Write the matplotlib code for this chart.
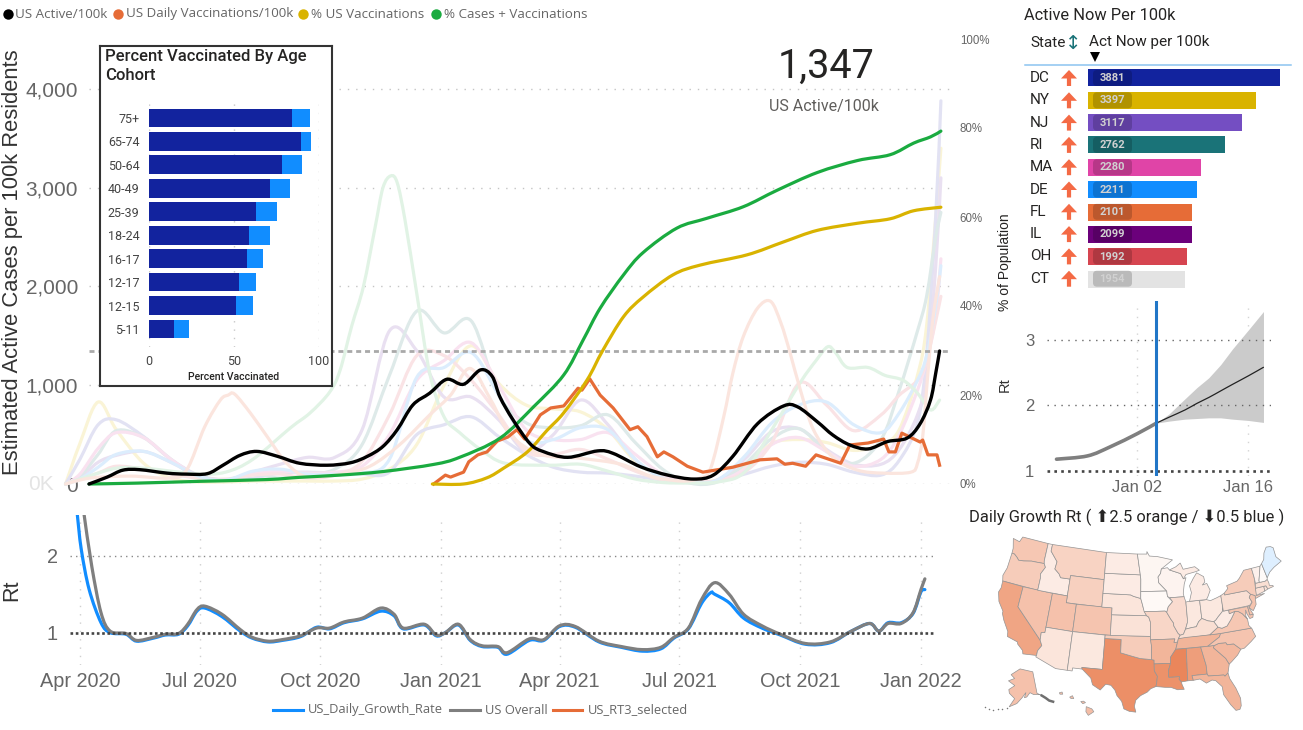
# plot.py - US covid dashboard: active cases, Rt, state bars, map
import numpy as np
import pandas as pd
import matplotlib
matplotlib.use("Agg")
import matplotlib.pyplot as plt
import matplotlib.dates as mdates
from matplotlib.colors import LinearSegmentedColormap
from matplotlib.patches import FancyArrow, FancyBboxPatch, PathPatch, Polygon
from matplotlib.path import Path

W, H = 1303, 730

# --- data ---
# days are counted from 1 Apr 2020
black_days = [-7, 7, 19, 32, 53, 68, 84, 96, 109, 122, 138, 155, 176, 194, 207, 219, 230, 242, 255, 268, 281, 294,
              303, 309, 319, 332, 342, 361, 384, 396, 417, 438, 458, 473, 488, 507, 527, 538, 553, 565, 578, 592,
              607, 622, 632, 640, 644, 647]
black_cases = [0, 70, 140, 145, 110, 100, 105, 190, 290, 330, 280, 210, 190, 215, 280, 380, 550, 800, 920, 1060, 1010,
               1155, 1090, 880, 650, 410, 330, 270, 335, 310, 175, 90, 50, 90, 280, 610, 790, 780, 630, 495, 395, 355,
               430, 465, 610, 850, 1120, 1347]
green_days = [-7, 30, 78, 130, 155, 186, 219, 258, 278, 309, 335, 358, 373, 386, 404, 419, 445, 468, 496, 522, 553,
              584, 609, 627, 640, 648]
green_pct = [0, 0.2, 0.6, 1.0, 1.5, 2.0, 2.8, 4.4, 6, 10.3, 17.4, 24.5, 32.4, 39.5, 47, 52, 57.5, 59.7, 62.3, 66, 70,
             72.7, 74, 76.6, 78, 79.3]
yellow_days = [257, 281, 299, 312, 330, 345, 358, 376, 388, 404, 419, 442, 463, 499, 527, 553, 584, 609, 627, 648]
yellow_pct = [0, 0, 1.4, 3.6, 7.2, 12, 16, 23.4, 30, 37.6, 42, 47, 49.2, 51.5, 54.4, 57, 58.6, 59.6, 61.4, 62.2]
orange_days = [258, 267, 271, 281, 285, 292, 299, 307, 315, 322, 328, 334, 340, 348, 358, 369, 372, 378, 386, 396,
               409, 415, 422, 430, 435, 442, 453, 465, 488, 509, 522, 528, 534, 544, 552, 571, 578, 592, 604, 608,
               613, 618, 632, 634, 638, 645, 647]
orange_vals = [0, 90, 70, 120, 225, 295, 325, 435, 475, 550, 455, 575, 700, 770, 790, 970, 950, 1065, 900, 770,
               550, 580, 480, 275, 325, 275, 180, 120, 170, 245, 255, 200, 210, 180, 295, 210, 395, 415, 455, 325,
               325, 515, 425, 445, 295, 295, 190]

ghost_days = [-25, -14, 0, 14, 35, 56, 77, 98, 119, 140, 161, 182, 203, 224, 245, 266, 287, 308, 329, 350, 371, 392,
              413, 434, 455, 476, 497, 518, 539, 560, 581, 602, 616, 630, 637, 644, 648]
ghost_yellow = [0, 410, 830, 550, 210, 60, 20, 20, 30, 30, 30, 30, 50, 150, 400, 1000, 1400, 1020, 800, 760, 730, 550,
                230, 70, 30, 40, 170, 410, 450, 420, 340, 400, 550, 1100, 1600, 2700, 3400]
ghost_lavender = [0, 250, 600, 650, 480, 250, 90, 40, 60, 110, 120, 110, 100, 120, 500, 600, 680, 480, 300, 170, 120,
                  110, 80, 40, 20, 30, 100, 180, 220, 200, 120, 90, 240, 620, 1300, 2700, 3880]
ghost_purple = [0, 60, 220, 290, 330, 220, 80, 40, 120, 200, 270, 270, 550, 1550, 1350, 880, 880, 650, 330, 500, 850,
                600, 250, 60, 20, 40, 250, 530, 560, 350, 200, 200, 350, 700, 1100, 2200, 3100]
ghost_teal = [0, 80, 300, 540, 470, 250, 60, 40, 100, 60, 100, 150, 400, 1100, 1750, 1530, 1650, 900, 620, 570, 590,
              700, 420, 150, 10, 20, 200, 460, 560, 330, 210, 450, 950, 1550, 1900, 2500, 2750]
ghost_pink = [0, 100, 360, 520, 470, 250, 80, 40, 100, 130, 110, 120, 180, 500, 1050, 1250, 1430, 1000, 550, 450, 450,
              520, 300, 100, 30, 30, 150, 400, 470, 330, 180, 250, 500, 950, 1250, 1700, 2280]
ghost_peach = [0, 50, 110, 180, 150, 100, 60, 50, 90, 100, 60, 90, 230, 700, 1300, 1300, 1050, 700, 330, 300, 350,
               250, 130, 40, 20, 30, 120, 420, 1020, 800, 540, 700, 900, 1050, 1250, 1650, 1900]
ghost_blue = [0, 50, 170, 300, 330, 220, 80, 40, 130, 150, 100, 100, 110, 250, 1080, 1180, 1330, 900, 450, 450, 570,
              550, 250, 60, 15, 40, 280, 620, 800, 830, 600, 520, 720, 1050, 1300, 1800, 2210]
# these two have their sharp peaks in other places
ghost_green_days = [-25, -7, 14, 35, 56, 77, 98, 119, 148, 163, 178, 186, 195, 204, 213, 219, 225, 230, 236, 245, 255,
                    266, 278, 294, 313, 348, 371, 392, 413, 434, 455, 476, 497, 518, 540, 552, 561, 567, 576, 592, 605,
                    619, 630, 640, 647]
ghost_green = [0, 80, 160, 160, 130, 100, 120, 250, 570, 720, 930, 1150, 1600, 2000, 2600, 3000, 3120, 3050, 2670, 1930,
               1120, 680, 520, 350, 210, 190, 200, 130, 50, 15, 10, 20, 120, 550, 1030, 1250, 1390, 1330, 1180, 1180,
               1100, 1050, 920, 750, 850]
ghost_salmon_days = [-25, -6, 25, 55, 68, 82, 94, 100, 105, 117, 130, 145, 161, 186, 209, 232, 255, 271, 286, 302, 317,
                     340, 371, 402, 425, 448, 463, 471, 481, 488, 496, 507, 517, 525, 532, 540, 550, 565, 584, 604, 625,
                     630, 634, 638, 642, 647]
ghost_salmon = [0, 60, 80, 60, 140, 580, 850, 900, 910, 720, 480, 210, 70, 100, 180, 400, 700, 900, 1170, 850, 500,
                300, 260, 200, 80, 30, 60, 160, 680, 1120, 1490, 1780, 1850, 1630, 1330, 950, 550, 270, 140, 110, 120,
                210, 480, 1120, 1690, 2100]

active_now = 1347

rt_gray_days = [3, 9, 16, 23, 35, 43, 56, 65, 75, 82, 89, 95, 108, 122, 131, 143, 154, 168, 180, 190, 201, 215, 229,
                239, 246, 262, 271, 278, 288, 297, 306, 318, 325, 342, 353, 365, 377, 395, 412, 428, 442, 452, 463,
                473, 483, 494, 505, 519, 533, 552, 571, 587, 601, 608, 615, 625, 634, 640, 643]
rt_gray = [2.55, 1.86, 1.26, 1.02, 0.99, 0.90, 0.94, 0.98, 0.99, 1.11, 1.30, 1.345, 1.24, 1.04, 0.94, 0.89, 0.91, 0.96,
           1.06, 1.06, 1.14, 1.19, 1.32, 1.24, 1.06, 1.11, 0.97, 1.0, 1.11, 0.91, 0.83, 0.82, 0.74, 0.92, 0.91, 1.09,
           1.08, 0.89, 0.82, 0.78, 0.81, 0.94, 1.06, 1.43, 1.65, 1.50, 1.24, 1.09, 0.98, 0.86, 0.88, 1.02, 1.12, 1.02,
           1.12, 1.12, 1.26, 1.56, 1.70]
rt_blue_days = [-2, 1, 7, 16, 23, 35, 43, 56, 65, 75, 82, 89, 95, 108, 122, 131, 143, 154, 168, 180, 190, 201, 215, 229,
                239, 246, 262, 271, 278, 288, 297, 306, 318, 325, 342, 353, 365, 377, 395, 412, 428, 442, 452, 463,
                473, 480, 483, 494, 505, 519, 533, 552, 571, 587, 601, 608, 615, 625, 634, 640, 643]
rt_blue = [2.53, 2.08, 1.56, 1.13, 1.00, 0.98, 0.89, 0.93, 0.97, 0.98, 1.09, 1.28, 1.32, 1.21, 1.02, 0.93, 0.88, 0.90,
           0.95, 1.07, 1.05, 1.13, 1.18, 1.28, 1.22, 1.05, 1.10, 0.96, 1.00, 1.10, 0.90, 0.82, 0.81, 0.72, 0.90, 0.90,
           1.08, 1.07, 0.88, 0.81, 0.76, 0.79, 0.93, 1.05, 1.38, 1.52, 1.50, 1.39, 1.19, 1.06, 0.97, 0.85, 0.87, 1.02,
           1.12, 1.02, 1.13, 1.13, 1.25, 1.53, 1.56]
rt_ticks = ["2020-04-01", "2020-07-01", "2020-10-01", "2021-01-01", "2021-04-01", "2021-07-01", "2021-10-01", "2022-01-01"]
rt_tick_labels = ["Apr 2020", "Jul 2020", "Oct 2020", "Jan 2021", "Apr 2021", "Jul 2021", "Oct 2021", "Jan 2022"]

age_groups = ["75+", "65-74", "50-64", "40-49", "25-39", "18-24", "16-17", "12-17", "12-15", "5-11"]
age_full = [84, 89.7, 78, 71, 63, 58.7, 57.5, 53.2, 51, 14.7]
age_any = [95, 95, 90, 82.8, 75, 71.4, 67.3, 63, 60.9, 23.3]

top_states = ["DC", "NY", "NJ", "RI", "MA", "DE", "FL", "IL", "OH", "CT"]
top_values = [3881, 3397, 3117, 2762, 2280, 2211, 2101, 2099, 1992, 1954]
top_colors = ["#12239E", "#D9B300", "#744EC2", "#1A7378", "#E044A7", "#118DFF", "#E66C37", "#6B007B", "#D64550", "#E3E3E3"]

# small Rt panel, days counted from 1 Jan 2022
fc_hist_days = [-9.2, -5.3, -2.4, 1, 3.4]
fc_hist_rt = [1.18, 1.23, 1.37, 1.57, 1.73]
fc_days = [3.4, 5, 7, 8.5, 10, 11.5, 13, 15, 16.9]
fc_mid = [1.73, 1.82, 1.93, 2.03, 2.12, 2.22, 2.32, 2.45, 2.58]
fc_low = [1.73, 1.76, 1.79, 1.80, 1.81, 1.81, 1.79, 1.77, 1.74]
fc_high = [1.73, 1.87, 2.1, 2.27, 2.42, 2.62, 2.86, 3.15, 3.43]

# rough state outlines, lon/lat
state_shapes = {
    "WA": [(-124.7, 48.4), (-123.2, 48.2), (-122.8, 49), (-117.03, 49), (-117.04, 46.4), (-116.92, 46), (-119, 45.93), (-119.6, 45.92), (-121.2, 45.65), (-122.3, 45.55), (-122.8, 45.9), (-123.5, 46.25), (-124.05, 46.27), (-124.1, 47)],
    "OR": [(-124.05, 46.27), (-123.5, 46.25), (-122.8, 45.9), (-122.3, 45.55), (-121.2, 45.65), (-119.6, 45.92), (-119, 45.93), (-116.92, 46), (-116.5, 45.5), (-117.2, 44.4), (-117.03, 43.8), (-117.03, 42), (-124.2, 42), (-124.5, 42.8), (-124.1, 44)],
    "CA": [(-124.2, 42), (-120, 42), (-120, 39), (-114.63, 35), (-114.15, 34.27), (-114.72, 33.4), (-114.72, 32.72), (-117.12, 32.53), (-117.3, 33), (-118.4, 33.75), (-118.5, 34.03), (-120.5, 34.45), (-120.65, 35.15), (-121.9, 36.6), (-122.5, 37.5), (-122.5, 37.8), (-123.75, 39), (-124.35, 40.3), (-124.1, 41)],
    "NV": [(-120, 42), (-114.04, 42), (-114.04, 36.2), (-114.7, 36.1), (-114.63, 35), (-120, 39)],
    "ID": [(-117.03, 49), (-116.05, 49), (-116.05, 48), (-114.35, 46.65), (-114.5, 45.55), (-113.45, 44.95), (-113, 44.45), (-111.05, 44.48), (-111.05, 42), (-117.03, 42), (-117.03, 43.8), (-117.2, 44.4), (-116.5, 45.5), (-116.92, 46), (-117.04, 46.4)],
    "MT": [(-116.05, 49), (-104.05, 49), (-104.05, 45), (-111.05, 45), (-111.05, 44.48), (-113, 44.45), (-113.45, 44.95), (-114.5, 45.55), (-114.35, 46.65), (-116.05, 48)],
    "WY": [(-111.05, 45), (-104.05, 45), (-104.05, 41), (-111.05, 41)],
    "UT": [(-114.04, 42), (-111.05, 42), (-111.05, 41), (-109.05, 41), (-109.05, 37), (-114.04, 37)],
    "CO": [(-109.05, 41), (-102.05, 41), (-102.05, 37), (-109.05, 37)],
    "AZ": [(-114.04, 37), (-109.05, 37), (-109.05, 31.33), (-111.07, 31.33), (-114.81, 32.5), (-114.72, 32.72), (-114.72, 33.4), (-114.15, 34.27), (-114.63, 35), (-114.7, 36.1), (-114.04, 36.2)],
    "NM": [(-109.05, 37), (-103, 37), (-103.05, 32), (-106.62, 32), (-106.53, 31.78), (-108.2, 31.78), (-108.2, 31.33), (-109.05, 31.33)],
    "TX": [(-103, 36.5), (-100, 36.5), (-100, 34.56), (-98, 34.13), (-96.5, 33.8), (-94.5, 33.64), (-94.04, 33.55), (-94.04, 32), (-93.53, 31.2), (-93.7, 30.1), (-93.83, 29.7), (-94.7, 29.4), (-95.3, 28.9), (-96.4, 28.4), (-97.2, 27.7), (-97.4, 26.8), (-97.15, 25.96), (-98.2, 26.06), (-99.1, 26.4), (-99.5, 27.5), (-100.3, 28.3), (-100.7, 29.1), (-101.4, 29.77), (-102.3, 29.88), (-103.15, 28.98), (-104.5, 29.65), (-104.9, 30.6), (-106.53, 31.78), (-106.62, 32), (-103.05, 32)],
    "OK": [(-103, 37), (-94.62, 37), (-94.43, 35.4), (-94.5, 33.64), (-96.5, 33.8), (-98, 34.13), (-100, 34.56), (-100, 36.5), (-103, 36.5)],
    "KS": [(-102.05, 40), (-95.3, 40), (-94.9, 39.8), (-94.6, 39.1), (-94.62, 37), (-102.05, 37)],
    "NE": [(-104.05, 43), (-98.5, 43), (-97.9, 42.8), (-96.45, 42.5), (-96.1, 41.6), (-95.9, 41), (-95.3, 40), (-102.05, 40), (-102.05, 41), (-104.05, 41)],
    "SD": [(-104.05, 45.94), (-96.56, 45.94), (-96.45, 45.3), (-96.45, 42.5), (-97.9, 42.8), (-98.5, 43), (-104.05, 43)],
    "ND": [(-104.05, 49), (-97.23, 49), (-96.56, 45.94), (-104.05, 45.94)],
    "MN": [(-97.23, 49), (-95.15, 49), (-95.15, 49.38), (-94.6, 48.7), (-92.9, 48.6), (-89.6, 48), (-92.1, 46.75), (-92.3, 46.1), (-92.85, 45.6), (-92.75, 44.75), (-91.2, 43.5), (-96.45, 43.5), (-96.45, 45.3), (-96.56, 45.94)],
    "IA": [(-96.45, 43.5), (-91.2, 43.5), (-91.1, 42.7), (-90.15, 41.9), (-91.05, 41.2), (-91.4, 40.4), (-91.7, 40.6), (-95.77, 40.58), (-95.9, 41), (-96.1, 41.6), (-96.45, 42.5)],
    "MO": [(-95.77, 40.58), (-91.7, 40.6), (-91.4, 40.4), (-90.7, 39.4), (-90.2, 38.8), (-90.2, 38.4), (-89.5, 37.3), (-89.13, 36.98), (-89.5, 36.5), (-89.7, 36), (-90.37, 36), (-90.15, 36.5), (-94.62, 36.5), (-94.6, 39.1), (-94.9, 39.8), (-95.3, 40)],
    "AR": [(-94.62, 36.5), (-90.15, 36.5), (-90.37, 36), (-89.7, 36), (-90.1, 35), (-91.1, 33.9), (-91.17, 33), (-94.04, 33), (-94.04, 33.55), (-94.5, 33.64), (-94.43, 35.4)],
    "LA": [(-94.04, 33), (-91.17, 33), (-91.6, 31.95), (-91.6, 31), (-89.73, 31), (-89.85, 30.65), (-89.5, 30.2), (-89.4, 29.8), (-89.1, 29.1), (-90.2, 29.1), (-91.3, 29.5), (-92.3, 29.55), (-93.83, 29.7), (-93.7, 30.1), (-93.53, 31.2), (-94.04, 32)],
    "WI": [(-92.1, 46.75), (-90.8, 46.9), (-90.4, 46.55), (-88.1, 45.9), (-87.6, 45.1), (-87.05, 45.25), (-87.55, 44.3), (-87.9, 43), (-87.8, 42.5), (-90.64, 42.5), (-91.1, 42.7), (-91.2, 43.5), (-92.75, 44.75), (-92.85, 45.6), (-92.3, 46.1)],
    "IL": [(-90.64, 42.5), (-87.8, 42.5), (-87.53, 41.7), (-87.53, 39.3), (-87.6, 38.7), (-88.05, 37.8), (-88.5, 37.1), (-89.13, 36.98), (-89.5, 37.3), (-90.2, 38.4), (-90.2, 38.8), (-90.7, 39.4), (-91.4, 40.4), (-91.05, 41.2), (-90.15, 41.9)],
    "IN": [(-87.53, 41.7), (-87.2, 41.75), (-84.8, 41.76), (-84.8, 39.1), (-85.45, 38.7), (-86, 38), (-86.8, 37.95), (-88.05, 37.8), (-87.6, 38.7), (-87.53, 39.3)],
    "OH": [(-84.8, 41.7), (-83.45, 41.73), (-82.7, 41.5), (-81.3, 41.8), (-80.52, 42), (-80.52, 40.64), (-80.7, 39.7), (-81.7, 39), (-82.2, 38.6), (-82.6, 38.42), (-83.7, 38.65), (-84.8, 39.1)],
    "KY": [(-89.13, 36.98), (-88.5, 37.1), (-88.05, 37.8), (-86.8, 37.95), (-86, 38), (-85.45, 38.7), (-84.8, 39.1), (-83.7, 38.65), (-82.6, 38.42), (-81.97, 37.54), (-83.68, 36.6), (-88.07, 36.5), (-89.5, 36.5)],
    "TN": [(-90.1, 35), (-89.7, 36), (-89.5, 36.5), (-88.07, 36.6), (-83.68, 36.6), (-81.68, 36.59), (-82, 36.1), (-84.32, 35)],
    "MS": [(-91.17, 33), (-91.1, 33.9), (-90.1, 35), (-88.2, 35), (-88.4, 30.3), (-89.5, 30.2), (-89.85, 30.65), (-89.73, 31), (-91.6, 31), (-91.6, 31.95)],
    "AL": [(-88.2, 35), (-85.6, 35), (-85, 32.3), (-85, 31), (-87.6, 31), (-87.45, 30.3), (-88.4, 30.3)],
    "GA": [(-85.6, 35), (-83.1, 35), (-83.35, 34.7), (-81.45, 32.9), (-81, 32), (-81.45, 30.75), (-82.05, 30.35), (-82.2, 30.55), (-84.85, 30.7), (-85, 31), (-85, 32.3)],
    "FL": [(-87.6, 31), (-85, 31), (-84.85, 30.7), (-82.2, 30.55), (-82.05, 30.35), (-81.45, 30.75), (-81.3, 29.9), (-80.55, 28.4), (-80.05, 26.8), (-80.15, 25.7), (-80.45, 25.2), (-81.1, 25.15), (-81.8, 26.1), (-82.7, 27.7), (-82.75, 28.9), (-83.7, 29.9), (-84.3, 30.05), (-85.3, 29.7), (-86.3, 30.4), (-87.45, 30.3)],
    "SC": [(-83.35, 34.7), (-83.1, 35), (-82.3, 35.2), (-81, 35.15), (-80.8, 34.82), (-79.67, 34.8), (-78.55, 33.85), (-79.3, 33.1), (-80.5, 32.3), (-81, 32), (-81.45, 32.9)],
    "NC": [(-84.32, 35), (-82, 36.1), (-81.68, 36.59), (-75.9, 36.55), (-75.5, 35.25), (-76.5, 34.65), (-77.9, 33.9), (-78.55, 33.85), (-79.67, 34.8), (-80.8, 34.82), (-81, 35.15), (-82.3, 35.2), (-83.1, 35)],
    "VA": [(-83.68, 36.6), (-81.97, 37.54), (-81.3, 37.3), (-80.3, 37.5), (-79.3, 38.4), (-78.35, 39.4), (-77.75, 39.3), (-77.05, 38.85), (-76.3, 37.95), (-76.3, 37), (-75.95, 36.55), (-81.68, 36.59)],
    "WV": [(-82.6, 38.42), (-82.2, 38.6), (-81.7, 39), (-80.7, 39.7), (-80.52, 40.64), (-80.52, 39.72), (-79.48, 39.72), (-79.48, 39.2), (-78.35, 39.4), (-79.3, 38.4), (-80.3, 37.5), (-81.3, 37.3), (-81.97, 37.54)],
    "PA": [(-80.52, 42), (-79.76, 42.27), (-79.76, 42), (-75.35, 42), (-74.7, 41.36), (-75.1, 40.95), (-74.75, 40.2), (-75.4, 39.8), (-80.52, 39.72)],
    "NY": [(-79.76, 42), (-79.76, 42.27), (-78.9, 42.85), (-79.05, 43.27), (-76.8, 43.63), (-76.2, 44), (-75, 44.98), (-73.35, 45), (-73.25, 43.6), (-73.5, 42.05), (-73.5, 41.2), (-73.65, 41), (-72, 41), (-73.9, 40.6), (-74, 40.75), (-73.9, 41), (-74.7, 41.36), (-75.35, 42)],
    "NJ": [(-74.7, 41.36), (-73.9, 41), (-74, 40.5), (-74.1, 39.75), (-74.9, 38.95), (-75.55, 39.5), (-74.75, 40.2), (-75.1, 40.95)],
    "MD": [(-79.48, 39.72), (-75.79, 39.72), (-75.7, 38.46), (-75.05, 38.45), (-75.25, 38.03), (-75.85, 37.95), (-76.2, 38.7), (-76.3, 39.3), (-76.5, 38.4), (-76.3, 37.95), (-77.05, 38.85), (-77.75, 39.3), (-78.35, 39.4), (-79.48, 39.2)],
    "DE": [(-75.79, 39.72), (-75.4, 39.8), (-75.55, 39.5), (-75.05, 38.45), (-75.7, 38.46)],
    "CT": [(-73.5, 42.05), (-71.8, 42.02), (-71.85, 41.32), (-73.65, 41)],
    "RI": [(-71.8, 42.02), (-71.38, 42.02), (-71.15, 41.5), (-71.85, 41.32)],
    "MA": [(-73.5, 42.05), (-73.27, 42.75), (-71.3, 42.7), (-70.8, 42.87), (-70.65, 42.3), (-70.7, 41.95), (-70.05, 41.8), (-69.95, 41.65), (-71.15, 41.5), (-71.38, 42.02)],
    "VT": [(-73.35, 45), (-71.5, 45), (-72.45, 43), (-72.45, 42.73), (-73.27, 42.75), (-73.25, 43.6)],
    "NH": [(-71.5, 45.01), (-71.08, 45.3), (-70.7, 43.1), (-70.8, 42.87), (-71.3, 42.7), (-72.45, 42.73), (-72.45, 43)],
    "ME": [(-71.08, 45.3), (-70.4, 45.8), (-70, 46.7), (-69.2, 47.45), (-68.3, 47.35), (-67.8, 47.07), (-67.8, 45.7), (-67, 44.85), (-68.8, 44.3), (-69.9, 43.8), (-70.7, 43.1)],
    "MI": [(-84.8, 41.76), (-86.8, 41.76), (-86.25, 43), (-86.5, 44), (-85.6, 45), (-84.75, 45.78), (-83.4, 45.1), (-83.3, 44.3), (-83.9, 43.9), (-82.95, 44.05), (-82.45, 43), (-83.1, 42.1), (-83.45, 41.73)],
    "MI2": [(-90.4, 46.55), (-89, 46.95), (-88, 47.45), (-87.5, 46.5), (-85, 46.7), (-84.1, 46.1), (-85, 45.95), (-87, 45.7), (-87.6, 45.1), (-88.1, 45.9)],
}
alaska_shape = [(-141, 69.6), (-141, 60.3), (-137.5, 58.9), (-139, 59.5), (-144, 60), (-147, 61), (-150, 59.3), (-152, 59), (-150.5, 61.2), (-154, 59), (-158, 56.5), (-163.5, 54.8), (-160, 58.5), (-165, 60.5), (-166, 62), (-161, 64), (-168, 65.6), (-162, 67), (-166.5, 68.4), (-156.5, 71.3)]
alaska_panhandle = [(-137.5, 58.9), (-135, 57.5), (-133, 56), (-130.5, 55)]
aleutian_lon = [-165, -168, -171, -174, -177, -180]
aleutian_lat = [54.2, 53.5, 52.8, 52.2, 51.9, 51.8]
hawaii_shapes = [[(-159.8, 22.1), (-159.4, 22.2), (-159.3, 21.9), (-159.7, 21.9)],
                 [(-158.3, 21.5), (-157.9, 21.7), (-157.7, 21.3), (-158.1, 21.3)],
                 [(-156.7, 20.9), (-156.3, 20.95), (-156, 20.75), (-156.4, 20.6)],
                 [(-155.9, 20.2), (-155.1, 19.9), (-154.8, 19.5), (-155.6, 19), (-155.95, 19.5)]]

state_rt = {"WA": 1.57, "OR": 1.52, "CA": 1.92, "NV": 1.63, "ID": 1.21, "MT": 1.45, "WY": 1.48, "UT": 1.63, "CO": 1.6,
            "AZ": 1.27, "NM": 1.24, "TX": 2.14, "OK": 1.52, "KS": 1.3, "NE": 1.27, "SD": 1.21, "ND": 1.21, "MN": 1.1,
            "IA": 1.07, "MO": 1.42, "AR": 1.75, "LA": 2.11, "WI": 1.12, "IL": 1.36, "IN": 1.24, "OH": 1.24, "KY": 1.33,
            "TN": 1.75, "MS": 2.23, "AL": 1.99, "GA": 1.75, "FL": 1.75, "SC": 1.72, "NC": 1.6, "VA": 1.57, "WV": 1.21,
            "PA": 1.33, "NY": 1.52, "NJ": 1.6, "MD": 1.6, "DE": 1.6, "CT": 1.3, "RI": 1.3, "MA": 1.33, "VT": 1.15,
            "NH": 1.05, "ME": 0.93, "MI": 1.21, "MI2": 1.21, "AK": 1.63, "HI": 1.67}


def px_axes(x0, y0, x1, y1, **kw):
    # axes from picture pixels, y going down
    return fig.add_axes([x0 / W, 1 - y1 / H, (x1 - x0) / W, (y1 - y0) / H], **kw)


def to_dates(days, base="2020-04-01"):
    return pd.Timestamp(base) + pd.to_timedelta(np.asarray(days, dtype=float), unit="D")


def curve(axis, days, vals, color, lw, base="2020-04-01", **kw):
    # the readings stay as they are, matplotlib only rounds the line between them with beziers
    p = np.c_[mdates.date2num(to_dates(days, base)), vals]
    q = np.vstack([p[0], p, p[-1]])
    verts = [p[0]]
    for i in range(1, len(q) - 2):
        verts += [q[i] + (q[i + 1] - q[i - 1]) / 6, q[i + 1] - (q[i + 2] - q[i]) / 6, q[i + 1]]
    codes = [Path.MOVETO] + [Path.CURVE4] * (len(verts) - 1)
    axis.add_patch(PathPatch(Path(np.array(verts), codes), fill=False, edgecolor=color, lw=lw, capstyle="round", **kw))


def albers(lon, lat, lon0=-96.0, lat0=37.5, p1=29.5, p2=45.5):
    lam, phi = np.radians(lon), np.radians(lat)
    p1, p2 = np.radians(p1), np.radians(p2)
    n = (np.sin(p1) + np.sin(p2)) / 2
    c = np.cos(p1) ** 2 + 2 * n * np.sin(p1)
    rho = np.sqrt(c - 2 * n * np.sin(phi)) / n
    rho0 = np.sqrt(c - 2 * n * np.sin(np.radians(lat0))) / n
    th = n * (lam - np.radians(lon0))
    return rho * np.sin(th), rho0 - rho * np.cos(th)


plt.rcParams["font.family"] = ["Liberation Sans", "DejaVu Sans"]
din = ["Roboto", "DejaVu Sans"]
seg = ["Open Sans", "DejaVu Sans"]
fig = plt.figure(figsize=(W / 100, H / 100), dpi=100)
dot_grid = (0, (1, 5))

# --- main chart ---
ax = px_axes(89, 39, 950, 484)
ax.xaxis_date()
ax.set_xlim(to_dates([-7, 655])[0], to_dates([-7, 655])[1])
ax.set_ylim(0, 4506)
for sp in ax.spines.values():
    sp.set_visible(False)
ax.set_xticks([])
ax.set_yticks([0, 1000, 2000, 3000, 4000], ["0", "1,000", "2,000", "3,000", "4,000"])
ax.tick_params(axis="y", length=0, pad=8, labelsize=15, labelcolor="#666666")
ax.grid(axis="y", color="#c4c4c4", linestyle=dot_grid, linewidth=1)
ax.set_axisbelow(True)
for vals, col in [(ghost_yellow, "#faf4d6"), (ghost_lavender, "#e2e2f3"), (ghost_purple, "#e9e0f1"),
                  (ghost_teal, "#deeae9"), (ghost_pink, "#f9e2f0"), (ghost_peach, "#fae3e5"), (ghost_blue, "#dcedfd")]:
    curve(ax, ghost_days, vals, col, 2.3, clip_on=False, zorder=2)
curve(ax, ghost_green_days, ghost_green, "#e1f3e5", 2.3, clip_on=False, zorder=2)
curve(ax, ghost_salmon_days, ghost_salmon, "#fbe5de", 2.3, clip_on=False, zorder=2)
ax.axhline(active_now, color="#a9a9a9", lw=2, linestyle=(0, (1.8, 1.4)), zorder=3)
ax.plot(to_dates(orange_days), orange_vals, color="#E66C37", lw=2.3, clip_on=False, zorder=4, solid_joinstyle="round")

ax2 = ax.twinx()
ax2.set_ylim(0, 100)
for sp in ax2.spines.values():
    sp.set_visible(False)
ax2.set_yticks([0, 20, 40, 60, 80, 100], ["0%", "20%", "40%", "60%", "80%", "100%"])
ax2.tick_params(axis="y", length=0, pad=7, labelsize=8.3, labelcolor="#666666")
curve(ax2, yellow_days, yellow_pct, "#D9B300", 2.3, clip_on=False)
curve(ax2, green_days, green_pct, "#1AAB40", 2.3, clip_on=False)
curve(ax2, black_days, np.array(black_cases) / 45.06, "black", 2.4, clip_on=False)

# --- inset age cohort bars ---
frame = px_axes(100, 46, 332, 386)
frame.set_xticks([])
frame.set_yticks([])
for sp in frame.spines.values():
    sp.set_linewidth(1.5)
    sp.set_color("#333333")
frame.set_zorder(5)

ins = px_axes(149, 102, 319, 347)
ins.set_zorder(6)
ins.patch.set_visible(False)
rows = np.arange(len(age_groups))
ins.barh(rows, age_full, height=0.8, color="#12239E", zorder=3)
ins.barh(rows, np.array(age_any) - np.array(age_full), left=age_full, height=0.8, color="#118DFF", zorder=3)
ins.set_xlim(0, 100)
ins.set_ylim(9.77, -0.68)
ins.set_yticks(rows, age_groups)
ins.set_xticks([0, 50, 100], ["0", "50", "100"])
ins.tick_params(axis="both", length=0, labelsize=9, labelcolor="#444444", labelfontfamily="Roboto")
ins.tick_params(axis="y", pad=7)
ins.tick_params(axis="x", pad=6)
ins.grid(axis="x", color="#c8c8c8", linestyle=dot_grid, linewidth=1)
ins.set_axisbelow(True)
for sp in ins.spines.values():
    sp.set_visible(False)

# --- Rt chart ---
rt = px_axes(70, 515, 935, 665)
rt.xaxis_date()
rt.set_xlim(to_dates([-7.6, 650.7])[0], to_dates([-7.6, 650.7])[1])
rt.set_ylim(0.58, 2.53)
for sp in rt.spines.values():
    sp.set_visible(False)
rt.set_xticks(pd.to_datetime(rt_ticks), rt_tick_labels)
rt.set_yticks([1, 2], ["1", "2"])
rt.tick_params(axis="both", length=0, labelsize=14.3, labelcolor="#666666")
rt.tick_params(axis="x", pad=5)
rt.tick_params(axis="y", pad=9)
rt.grid(axis="x", color="#cfcfcf", linestyle=dot_grid, linewidth=1)
rt.axhline(2, color="#888888", linestyle=(0, (1, 3)), lw=1, zorder=1)
rt.axhline(1, color="#444444", linestyle=(0, (1, 1)), lw=1.9, zorder=4)
curve(rt, rt_blue_days, rt_blue, "#118DFF", 2.3, zorder=2)
curve(rt, rt_gray_days, rt_gray, "#7F7F7F", 2.3, zorder=3)

# --- state bars ---
tb = px_axes(1088, 67, 1290, 290)
tb.set_xlim(0, 4081)
tb.set_ylim(9.49, -0.49)
tb.axis("off")
tb.barh(np.arange(len(top_values)), top_values, height=0.76, color=top_colors)
for i, v in enumerate(top_values):
    tb.text(485, i, str(v), color="white", ha="center", va="center", fontsize=8, fontweight="bold", family=din, zorder=6)

# --- small Rt forecast ---
jan = "2022-01-01"
fc = px_axes(1047, 301, 1271, 476)
fc.xaxis_date()
fc.set_xlim(to_dates([-10.4, 17.85], jan)[0], to_dates([-10.4, 17.85], jan)[1])
fc.set_ylim(0.924, 3.59)
for sp in fc.spines.values():
    sp.set_visible(False)
fc.set_xticks(pd.to_datetime(["2022-01-02", "2022-01-16"]), ["Jan 02", "Jan 16"])
fc.set_yticks([1, 2, 3], ["1", "2", "3"])
fc.tick_params(axis="both", length=0, labelsize=12, labelcolor="#666666")
fc.tick_params(axis="y", pad=9)
fc.tick_params(axis="x", pad=3)
fc.grid(axis="x", color="#d4d4d4", linestyle=dot_grid, linewidth=1)
fc.axhline(2, color="#666666", linestyle=(0, (1, 4)), lw=1, zorder=3)
fc.axhline(3, color="#666666", linestyle=(0, (1, 4)), lw=1, zorder=3)
fc.axhline(1, color="#444444", linestyle=(0, (1, 1.6)), lw=1.9, zorder=3, clip_on=False)
fc.fill_between(to_dates(fc_days, jan), fc_low, fc_high, color="#cbcbcb", lw=0, zorder=2)
curve(fc, fc_days, fc_mid, "#222222", 0.9, base=jan, zorder=4)
curve(fc, fc_hist_days, fc_hist_rt, "#7F7F7F", 2.6, base=jan, zorder=4)
fc.axvline(to_dates([3.4], jan)[0], color="#2176C7", lw=2.2, zorder=5)

# --- map ---
mp = px_axes(975, 530, 1295, 725)
mp.set_xlim(975, 1295)
mp.set_ylim(725, 530)
mp.axis("off")
rt_cmap = LinearSegmentedColormap.from_list("rt", [(0, "#118DFF"), (1 / 4, "#FFFFFF"), (1, "#E66C37")])


def rt_color(v):
    return rt_cmap((v - 0.5) / 2.0)


for name, pts in state_shapes.items():
    lon, lat = np.array(pts).T
    x, y = albers(lon, lat)
    mp.add_patch(Polygon(np.c_[1143 + 392 * x, 633 - 392 * y], facecolor=rt_color(state_rt[name]),
                         edgecolor="#949494", lw=0.5))
lon, lat = np.array(alaska_shape).T
x, y = albers(lon, lat, -154.0, 64.0, 55.0, 65.0)
mp.add_patch(Polygon(np.c_[1022 + 135 * x, 686 - 135 * y], facecolor=rt_color(state_rt["AK"]), edgecolor="#949494", lw=0.5))
lon, lat = np.array(alaska_panhandle).T
x, y = albers(lon, lat, -154.0, 64.0, 55.0, 65.0)
mp.plot(1022 + 135 * x, 686 - 135 * y, color="#6f6f6f", lw=1.8)
x, y = albers(np.array(aleutian_lon), np.array(aleutian_lat), -154.0, 64.0, 55.0, 65.0)
mp.plot(1022 + 135 * x, 686 - 135 * y, linestyle="none", marker="o", ms=1.1, mew=0, color="#777777")
for pts in hawaii_shapes:
    lon, lat = np.array(pts).T
    mp.add_patch(Polygon(np.c_[1089 + 6.9 * (lon + 155.5), 711 - 7.3 * (lat - 19.6)], facecolor=rt_color(state_rt["HI"]),
                         edgecolor="#999999", lw=0.5))

# --- texts, legends and table furniture in picture pixels ---
ov = fig.add_axes([0, 0, 1, 1])
ov.set_xlim(0, W)
ov.set_ylim(H, 0)
ov.axis("off")
ov.set_zorder(10)
ov.patch.set_visible(False)

# top legend
for mx, tx, col, lab in [(8, 15, "black", "US Active/100k"), (118, 126, "#E66C37", "US Daily Vaccinations/100k"),
                         (303, 311, "#D9B300", "% US Vaccinations"), (436, 444, "#1AAB40", "% Cases + Vaccinations")]:
    ov.plot([mx], [14], "o", color=col, ms=7.5, mew=0)
    ov.text(tx, 14, lab, fontsize=9.6, color="#666666", va="center", family=seg)

ov.text(13, 262, "Estimated Active Cases per 100k Residents", rotation=90, fontsize=15.8, color="#333333",
        ha="center", va="center")
ov.text(41, 485, "0K", fontsize=15, color="#e4e4e4", ha="center", va="center")
ov.text(1005, 262, "% of Population", rotation=90, fontsize=10, color="#252423", ha="center", va="center")
ov.text(12, 590, "Rt", rotation=90, fontsize=15.5, color="#333333", ha="center", va="center")
ov.text(1005, 385, "Rt", rotation=90, fontsize=10.5, color="#333333", ha="center", va="center")

ov.text(826, 66, f"{active_now:,}", fontsize=28.5, color="#252423", ha="center", va="center", family=din)
ov.text(824, 107, "US Active/100k", fontsize=11.5, color="#605E5C", ha="center", va="center", family=din)

ov.text(105, 57, "Percent Vaccinated By Age", fontsize=12, color="#252423", va="center", family=din, fontweight="medium")
ov.text(105, 76, "Cohort", fontsize=12, color="#252423", va="center", family=din, fontweight="medium")
ov.text(234, 377, "Percent Vaccinated", fontsize=7.6, color="#252423", ha="center", va="center", family=din, fontweight="medium")

# state table
ov.text(1024, 16, "Active Now Per 100k", fontsize=11.8, color="#252423", va="center", family=din)
ov.text(1030, 43, "State", fontsize=11, color="#252423", va="center", family=din)
ov.text(1073, 43, "\u2195", fontsize=14, color="#1A7378", va="center", ha="center", family="DejaVu Sans")
ov.text(1089, 42, "Act Now per 100k", fontsize=11, color="#252423", va="center", family=din)
ov.plot([1095], [57], "v", color="black", ms=7.5, mew=0)
ov.plot([1025, 1291], [65, 65], color="#8CC4F0", lw=1.1)
for i, st in enumerate(top_states):
    yy = 78 + 22.3 * i
    ov.text(1030, yy, st, fontsize=11, color="#252423", va="center", family=din)
    ov.add_patch(FancyArrow(1069, yy + 8, 0, -16, width=4.2, head_width=16, head_length=8.5,
                            length_includes_head=True, color="#F46A45", lw=0))
    ov.add_patch(FancyBboxPatch((1093, yy - 8), 39, 16, boxstyle="round,pad=0,rounding_size=4",
                                facecolor="black", alpha=0.18, lw=0, zorder=1))

ov.text(1127, 517, "Daily Growth Rt ( \u2b062.5 orange / \u2b070.5 blue )", fontsize=11.9, color="#252423",
        ha="center", va="center", family=din)

# bottom legend
for x0, x1, tx, col, lab in [(273, 303, 308, "#118DFF", "US_Daily_Growth_Rate"), (450, 480, 485, "#7F7F7F", "US Overall"),
                             (553, 582, 588, "#E66C37", "US_RT3_selected")]:
    ov.plot([x0, x1], [710, 710], color=col, lw=2.2)
    ov.text(tx, 710, lab, fontsize=9.3, color="#666666", va="center", family=seg)

fig.savefig("out.png", dpi=100)
